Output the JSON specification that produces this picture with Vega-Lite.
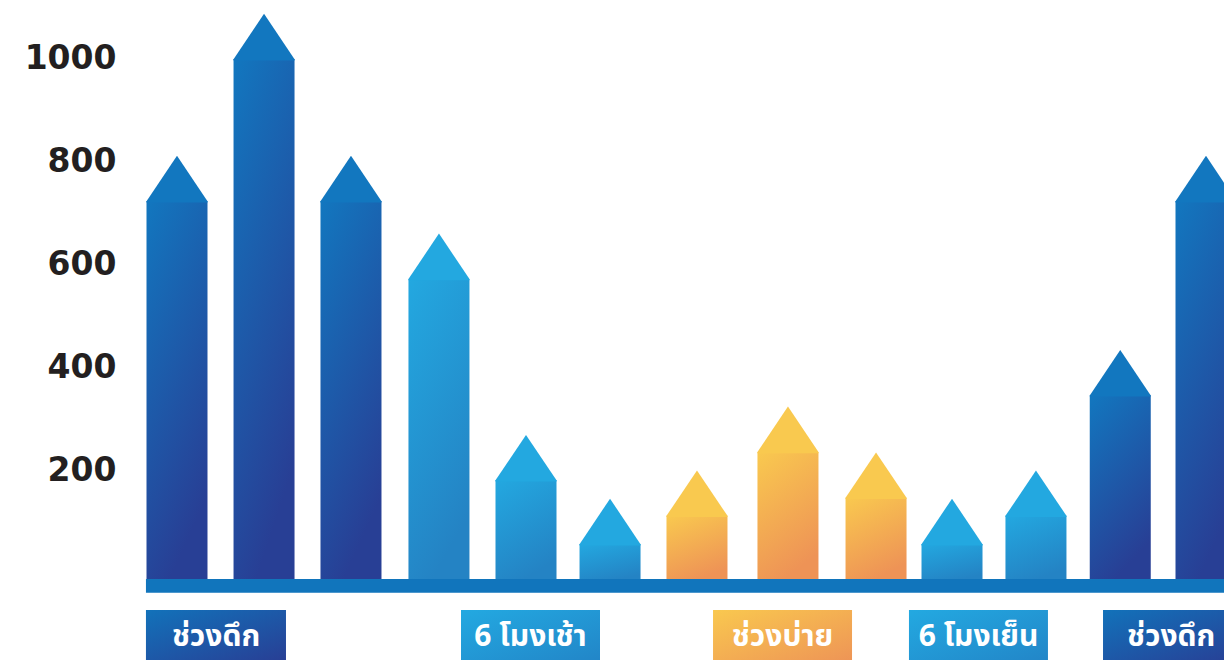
{
  "$schema": "https://vega.github.io/schema/vega-lite/v6.json",
  "width": 1224,
  "height": 660,
  "padding": 0,
  "autosize": {"type": "none"},
  "background": "white",
  "config": {"view": {"stroke": null}},
  "datasets": {
    "bars": [
      {"slot": 1.0, "value": 722, "period": "night"},
      {"slot": 2.015, "value": 998, "period": "night"},
      {"slot": 3.029, "value": 722, "period": "night"},
      {"slot": 4.055, "value": 571, "period": "day"},
      {"slot": 5.07, "value": 180, "period": "day"},
      {"slot": 6.05, "value": 56, "period": "day"},
      {"slot": 7.064, "value": 111, "period": "afternoon"},
      {"slot": 8.125, "value": 235, "period": "afternoon"},
      {"slot": 9.152, "value": 146, "period": "afternoon"},
      {"slot": 10.038, "value": 56, "period": "day"},
      {"slot": 11.017, "value": 111, "period": "day"},
      {"slot": 12.0, "value": 345, "period": "night"},
      {"slot": 13.0, "value": 722, "period": "night"}
    ],
    "labels": [
      {"label": "ช่วงดึก", "start": 0.638, "end": 2.271, "mid": 1.455, "period": "night"},
      {"label": "6 โมงเช้า", "start": 4.312, "end": 5.933, "mid": 5.122, "period": "day"},
      {"label": "ช่วงบ่าย", "start": 7.251, "end": 8.872, "mid": 8.061, "period": "afternoon"},
      {"label": "6 โมงเย็น", "start": 9.536, "end": 11.157, "mid": 10.347, "period": "day"},
      {"label": "ช่วงดึก", "start": 11.799, "end": 13.432, "mid": 12.594, "period": "night"}
    ]
  },
  "layer": [
    {
      "data": {"name": "bars"},
      "transform": [{"filter": "datum.period === 'night'"}],
      "mark": {"type": "bar", "width": 61, "color": {"gradient": "linear", "x1": 0, "y1": 0, "x2": 0.35, "y2": 1, "stops": [{"offset": 0, "color": "#1277BF"}, {"offset": 1, "color": "#283F95"}]}},
      "encoding": {
        "x": {"field": "slot", "type": "quantitative", "scale": {"domain": [-1.0641, 13.2099], "nice": false, "zero": false, "padding": 0}, "axis": null},
        "y": {"field": "value", "type": "quantitative", "scale": {"domain": [-169, 1113], "nice": false, "zero": false, "padding": 0},
          "axis": {"values": [200, 400, 600, 800, 1000], "format": "d", "offset": -120, "domain": false, "ticks": false, "grid": false, "labelPadding": 4, "labelFont": "DejaVu Sans", "labelFontWeight": "bold", "labelFontSize": 33, "labelColor": "#231F20", "title": null}},
        "y2": {"datum": -20}
      }
    },
    {
      "data": {"name": "bars"},
      "transform": [{"filter": "datum.period === 'day'"}],
      "mark": {"type": "bar", "width": 61, "color": {"gradient": "linear", "x1": 0, "y1": 0, "x2": 0.35, "y2": 1, "stops": [{"offset": 0, "color": "#23A8E0"}, {"offset": 1, "color": "#2483C4"}]}},
      "encoding": {
        "x": {"field": "slot", "type": "quantitative"},
        "y": {"field": "value", "type": "quantitative"},
        "y2": {"datum": -20}
      }
    },
    {
      "data": {"name": "bars"},
      "transform": [{"filter": "datum.period === 'afternoon'"}],
      "mark": {"type": "bar", "width": 61, "color": {"gradient": "linear", "x1": 0, "y1": 0, "x2": 0.35, "y2": 1, "stops": [{"offset": 0, "color": "#F9C94F"}, {"offset": 1, "color": "#EE9356"}]}},
      "encoding": {
        "x": {"field": "slot", "type": "quantitative"},
        "y": {"field": "value", "type": "quantitative"},
        "y2": {"datum": -20}
      }
    },
    {
      "data": {"name": "bars"},
      "mark": {"type": "point", "filled": true, "opacity": 1, "strokeWidth": 0, "size": 3721, "shape": "M-1,0.04L-1,0L0,-1.49L1,0L1,0.04Z"},
      "encoding": {
        "x": {"field": "slot", "type": "quantitative"},
        "y": {"field": "value", "type": "quantitative"},
        "color": {"field": "period", "type": "nominal", "scale": {"domain": ["night", "day", "afternoon"], "range": ["#1277BF", "#23A8E0", "#F9C94F"]}, "legend": null}
      }
    },
    {
      "data": {"values": [{"part": "baseline"}]},
      "mark": {"type": "rect", "color": "#1175BC"},
      "encoding": {
        "x": {"datum": 0.638, "type": "quantitative"},
        "x2": {"datum": 13.6},
        "y": {"datum": -11.7, "type": "quantitative"},
        "y2": {"datum": -38.3}
      }
    },
    {
      "data": {"name": "labels"},
      "transform": [{"filter": "datum.period === 'night'"}],
      "mark": {"type": "rect", "color": {"gradient": "linear", "x1": 0, "y1": 0, "x2": 1, "y2": 1, "stops": [{"offset": 0, "color": "#1272BA"}, {"offset": 1, "color": "#283F95"}]}},
      "encoding": {
        "x": {"field": "start", "type": "quantitative"},
        "x2": {"field": "end"},
        "y": {"datum": -72, "type": "quantitative"},
        "y2": {"datum": -169}
      }
    },
    {
      "data": {"name": "labels"},
      "transform": [{"filter": "datum.period === 'day'"}],
      "mark": {"type": "rect", "color": {"gradient": "linear", "x1": 0, "y1": 0, "x2": 1, "y2": 1, "stops": [{"offset": 0, "color": "#23A9E1"}, {"offset": 1, "color": "#2286C8"}]}},
      "encoding": {
        "x": {"field": "start", "type": "quantitative"},
        "x2": {"field": "end"},
        "y": {"datum": -72, "type": "quantitative"},
        "y2": {"datum": -169}
      }
    },
    {
      "data": {"name": "labels"},
      "transform": [{"filter": "datum.period === 'afternoon'"}],
      "mark": {"type": "rect", "color": {"gradient": "linear", "x1": 0, "y1": 0, "x2": 1, "y2": 1, "stops": [{"offset": 0, "color": "#F9C84F"}, {"offset": 1, "color": "#EE9556"}]}},
      "encoding": {
        "x": {"field": "start", "type": "quantitative"},
        "x2": {"field": "end"},
        "y": {"datum": -72, "type": "quantitative"},
        "y2": {"datum": -169}
      }
    },
    {
      "data": {"name": "labels"},
      "mark": {"type": "text", "color": "white", "font": "Noto Sans Thai, Noto Sans, Lato, sans-serif", "fontWeight": "bold", "fontSize": 30, "align": "center", "baseline": "middle"},
      "encoding": {
        "x": {"field": "mid", "type": "quantitative"},
        "y": {"datum": -124, "type": "quantitative"},
        "text": {"field": "label"}
      }
    }
  ]
}
